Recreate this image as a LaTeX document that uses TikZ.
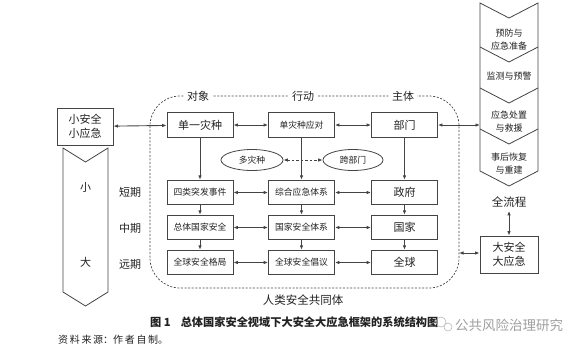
\documentclass[tikz,border=0pt]{standalone}
\usepackage{fontspec}
\setmainfont{Noto Sans CJK SC}
\usetikzlibrary{arrows.meta,shapes.geometric}
\definecolor{lc}{HTML}{444444}
\definecolor{tc}{HTML}{222222}
\tikzset{
  box/.style={draw=lc, line width=0.9pt, minimum width=66pt, minimum height=24.5pt, inner sep=0pt, fill=white, text=tc},
  bigt/.style={font=\fontsize{11}{12}\selectfont},
  smallt/.style={font=\fontsize{8.8}{10}\selectfont},
  lbl/.style={text=tc, font=\fontsize{11}{12}\selectfont, inner sep=1pt},
  biarr/.style={{Latex[length=4.5pt,width=3.6pt]}-{Latex[length=4.5pt,width=3.6pt]}, draw=lc, line width=0.9pt},
  downarr/.style={-{Latex[length=4.5pt,width=3.6pt]}, draw=lc, line width=0.9pt},
  oval/.style={ellipse, draw=lc, line width=0.8pt, minimum width=62pt, minimum height=21pt, inner sep=0pt, text=tc, font=\fontsize{8.8}{10}\selectfont},
  chev/.style={draw=lc, line width=0.8pt, fill=white},
  chevtxt/.style={text=tc, font=\fontsize{9}{12.5}\selectfont, align=center},
}
\begin{document}
\begin{tikzpicture}[x=1pt,y=-1pt]
\useasboundingbox (0,0) rectangle (585,351);

% dashed community boundary
\draw[lc, line width=0.7pt, dash pattern=on 2pt off 1.6pt, rounded corners=30pt] (150,96) rectangle (459,288);
\node[lbl, fill=white, inner xsep=3pt] (tobj) at (198,96) {对象};
\node[lbl, fill=white, inner xsep=3pt] (tact) at (303,96) {行动};
\node[lbl, fill=white, inner xsep=3pt] (tsub) at (403,96) {主体};
\node[text=tc, font=\fontsize{11.5}{12}\selectfont] (comm) at (303,300) {人类安全共同体};

% grid boxes
\node[box, bigt]   (a1) at (200,125)   {单一灾种};
\node[box, smallt] (b1) at (301.5,125) {单灾种应对};
\node[box, bigt]   (c1) at (404.5,125) {部门};
\node[box, smallt] (a2) at (200,192.5)   {四类突发事件};
\node[box, smallt] (b2) at (301.5,192.5) {综合应急体系};
\node[box, bigt]   (c2) at (404.5,192.5) {政府};
\node[box, smallt] (a3) at (200,227.5)   {总体国家安全};
\node[box, smallt] (b3) at (301.5,227.5) {国家安全体系};
\node[box, bigt]   (c3) at (404.5,227.5) {国家};
\node[box, smallt] (a4) at (200,262.5)   {全球安全格局};
\node[box, smallt] (b4) at (301.5,262.5) {全球安全倡议};
\node[box, bigt]   (c4) at (404.5,262.5) {全球};

% ellipses
\node[oval] (e1) at (252,160) {多灾种};
\node[oval, minimum width=60pt] (e2) at (353,160) {跨部门};
\draw[biarr, dash pattern=on 2.5pt off 2pt] (e1) -- (e2);

% vertical arrows
\foreach \c in {a,b,c}{
  \draw[downarr] (\c1) -- (\c2);
  \draw[downarr] (\c2) -- (\c3);
  \draw[downarr] (\c3) -- (\c4);
}
% horizontal arrows
\foreach \r in {1,2,3,4}{
  \draw[biarr] (a\r) -- (b\r);
  \draw[biarr] (b\r) -- (c\r);
}

% period labels
\node[lbl] (p1) at (130,192.5) {短期};
\node[lbl] (p2) at (130,228.5) {中期};
\node[lbl] (p3) at (130,264.5) {远期};

% left: small safety box and down chevron
\node[draw=lc, line width=0.9pt, minimum width=56pt, minimum height=37pt, inner sep=0pt, align=center, text=tc, font=\fontsize{11}{13.5}\selectfont] (small) at (85,126.5) {小安全\\小应急};
\draw[chev] (63,148) -- (85.5,162) -- (108,148) -- (108,292) -- (85.5,306) -- (63,292) -- cycle;
\node[lbl] (xs) at (85.5,187) {小};
\node[lbl] (xl) at (85.5,262) {大};
\draw[biarr] (small) -- (a1);

% right: process chevrons
\draw[chev] (480,3) -- (509,18) -- (538,3) -- (538,171) -- (509,186) -- (480,171) -- cycle;
\draw[lc, line width=0.8pt] (480,47) -- (509,62) -- (538,47);
\draw[lc, line width=0.8pt] (480,88) -- (509,103) -- (538,88);
\draw[lc, line width=0.8pt] (480,129) -- (509,144) -- (538,129);
\node[chevtxt] (s1) at (509,39.5) {预防与\\应急准备};
\node[chevtxt] (s2) at (509,76) {监测与预警};
\node[chevtxt] (s3) at (509,121.5) {应急处置\\与救援};
\node[chevtxt] (s4) at (509,163.5) {事后恢复\\与重建};
\coordinate (chw) at (480,125);
\draw[biarr] (c1) -- (chw);

\node[text=tc, font=\fontsize{11.5}{12}\selectfont] (whole) at (509,202) {全流程};
\node[draw=lc, line width=0.9pt, minimum width=58pt, minimum height=37pt, inner sep=0pt, align=center, text=tc, font=\fontsize{11}{13.5}\selectfont] (big) at (509,254.5) {大安全\\大应急};
\draw[biarr] (whole) -- (big);
\coordinate (bnd) at (459,253);
\draw[biarr] (bnd) -- (big.west |- bnd);

% caption
\node[anchor=west, text=tc, font=\bfseries\fontsize{11.2}{12}\selectfont, inner sep=0pt] (cap) at (150,322) {图 1\hspace{10pt}总体国家安全视域下大安全大应急框架的系统结构图};
\node[anchor=west, text=tc, font=\fontsize{10}{12}\selectfont, inner sep=0pt] (src) at (58,340) {资\,料\,来\,源：作\,者\,自\,制。};
% watermark
\draw[gray!55, line width=0.6pt] (441,322) circle (5pt);
\draw[gray!55, line width=0.6pt, fill=white] (448,327) circle (4pt);
\node[anchor=west, text=gray!75, font=\fontsize{13.5}{14}\selectfont, inner sep=0pt] (wm) at (455,325) {公共风险治理研究};
\end{tikzpicture}
\end{document}
